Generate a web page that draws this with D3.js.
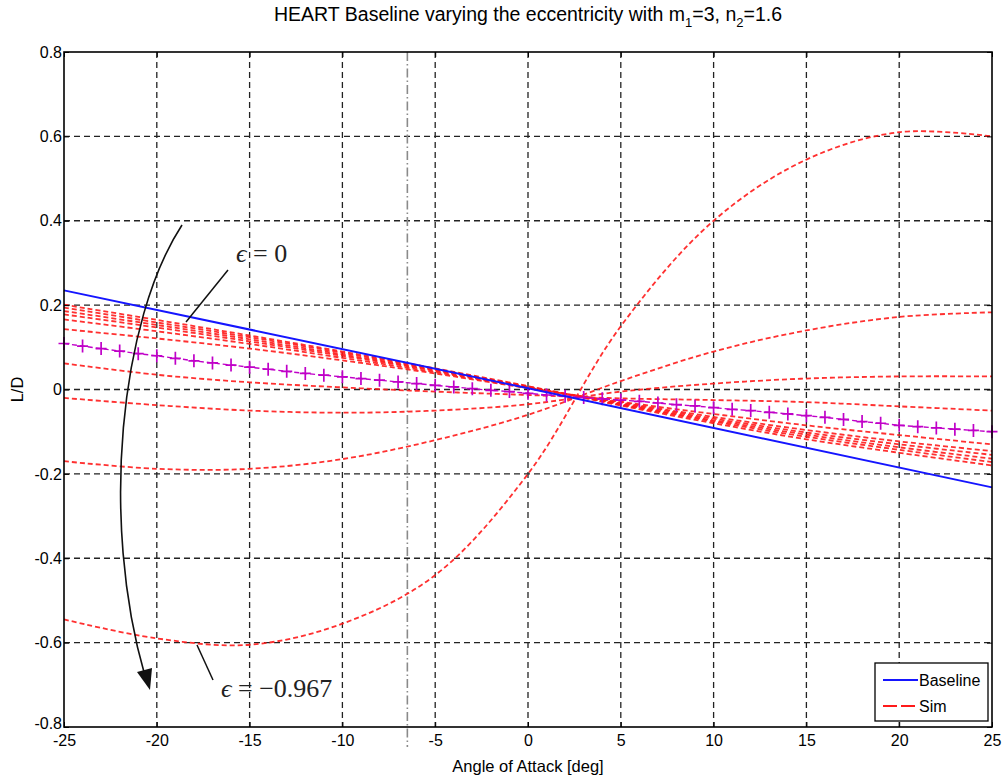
<!DOCTYPE html>
<html>
<head>
<meta charset="utf-8">
<script src="https://cdn.jsdelivr.net/npm/d3@7"></script>
<style>
  html, body { margin: 0; padding: 0; background: #fff; }
  svg { display: block; }
  .lbl { font-family: "Liberation Sans", Arial, sans-serif; }
</style>
</head>
<body>
<svg id="chart" width="1005" height="780"></svg>
<script>
// ---------- data ----------
const xTicks = [-25, -20, -15, -10, -5, 0, 5, 10, 15, 20, 25];
const xTickLabels = ["-25", "-20", "-15", "-10", "-5", "0", "5", "10", "15", "20", "25"];
const yTicks = [-0.8, -0.6, -0.4, -0.2, 0, 0.2, 0.4, 0.6, 0.8];
const yTickLabels = ["-0.8", "-0.6", "-0.4", "-0.2", "0", "0.2", "0.4", "0.6", "0.8"];

// Baseline (blue)
const baselineAoA = [-25, 0, 25];
const baselineLD = [0.235, 0.003, -0.232];

// Sim family (red dashed), sampled every 5 deg
const simAoA = [-25, -20, -15, -10, -5, 0, 5, 10, 15, 20, 25];
const simEps0 = [0.201, 0.165, 0.128, 0.090, 0.050, 0.008, -0.038, -0.080, -0.118, -0.150, -0.180];
const simEps1 = [0.194, 0.159, 0.124, 0.087, 0.048, 0.007, -0.036, -0.076, -0.112, -0.143, -0.172];
const simEps2 = [0.186, 0.153, 0.119, 0.083, 0.046, 0.006, -0.035, -0.073, -0.107, -0.137, -0.164];
const simEps3 = [0.178, 0.147, 0.114, 0.080, 0.044, 0.005, -0.033, -0.069, -0.102, -0.130, -0.155];
const simEps4 = [0.166, 0.138, 0.108, 0.075, 0.041, 0.004, -0.031, -0.065, -0.096, -0.123, -0.146];
const simEps5 = [0.143, 0.121, 0.097, 0.069, 0.038, 0.003, -0.029, -0.058, -0.085, -0.108, -0.130];
const simEps6 = [0.062, 0.035, 0.017, 0.005, -0.005, -0.013, -0.021, -0.025, -0.030, -0.040, -0.050];
const simEps7 = [-0.020, -0.037, -0.050, -0.055, -0.050, -0.035, -0.005, 0.014, 0.026, 0.031, 0.031];
const simEps8 = [-0.170, -0.188, -0.188, -0.165, -0.120, -0.060, 0.020, 0.090, 0.140, 0.172, 0.183];
const simEps9 = [-0.545, -0.590, -0.605, -0.555, -0.440, -0.200, 0.150, 0.400, 0.545, 0.610, 0.600];
const simSeries = [simEps0, simEps1, simEps2, simEps3, simEps4, simEps5, simEps6, simEps7, simEps8, simEps9];

// Purple "+" marker series, every 1 deg
const markAoA = [-25,-24,-23,-22,-21,-20,-19,-18,-17,-16,-15,-14,-13,-12,-11,-10,-9,-8,-7,-6,-5,-4,-3,-2,-1,0,1,2,3,4,5,6,7,8,9,10,11,12,13,14,15,16,17,18,19,20,21,22,23,24,25];
const markLD = [0.109,0.103,0.097,0.091,0.085,0.080,0.074,0.068,0.063,0.058,0.053,0.048,0.043,0.038,0.034,0.030,0.026,0.022,0.018,0.014,0.010,0.006,0.002,-0.002,-0.005,-0.009,-0.013,-0.016,-0.019,-0.022,-0.025,-0.028,-0.032,-0.036,-0.039,-0.043,-0.047,-0.050,-0.054,-0.058,-0.062,-0.066,-0.071,-0.076,-0.080,-0.085,-0.088,-0.091,-0.094,-0.097,-0.100];

// Vertical reference line
const refAoA = -6.5;

const titleText = "HEART Baseline varying the eccentricity with m";
const xLabel = "Angle of Attack [deg]";
const yLabel = "L/D";
const legendNames = ["Baseline", "Sim"];

// ---------- layout ----------
const svg = d3.select("#chart");
const L = 64, R = 992, T = 52, B = 727;
const x = d3.scaleLinear().domain([-25, 25]).range([L, R]);
const y = d3.scaleLinear().domain([-0.8, 0.8]).range([B, T]);

// grid
const grid = svg.append("g");
xTicks.slice(1, -1).forEach(v => {
  grid.append("line").attr("x1", x(v)).attr("x2", x(v)).attr("y1", T).attr("y2", B)
    .attr("stroke", "#222").attr("stroke-width", 1.3).attr("stroke-dasharray", "6,4");
});
yTicks.slice(1, -1).forEach(v => {
  grid.append("line").attr("x1", L).attr("x2", R).attr("y1", y(v)).attr("y2", y(v))
    .attr("stroke", "#222").attr("stroke-width", 1.3).attr("stroke-dasharray", "6,4");
});

// reference dash-dot line
svg.append("line").attr("x1", x(refAoA)).attr("x2", x(refAoA)).attr("y1", T).attr("y2", B + 20)
  .attr("stroke", "#8a8a8a").attr("stroke-width", 1.6).attr("stroke-dasharray", "9,3,1.5,3");

const plot = svg.append("g");
const lineSim = d3.line().x((d, i) => x(simAoA[i])).y(d => y(d)).curve(d3.curveCatmullRom.alpha(0.5));

// sim curves
simSeries.forEach(s => {
  plot.append("path").attr("d", lineSim(s)).attr("fill", "none")
    .attr("stroke", "#ff1a1a").attr("stroke-opacity", 0.9).attr("stroke-width", 1.8)
    .attr("stroke-dasharray", "5,3");
});

// purple series
const lineMark = d3.line().x((d, i) => x(markAoA[i])).y(d => y(d));
plot.append("path").attr("d", lineMark(markLD)).attr("fill", "none")
  .attr("stroke", "#c000c8").attr("stroke-width", 1.4).attr("stroke-dasharray", "5,3");
markLD.forEach((v, i) => {
  const cx = x(markAoA[i]), cy = y(v);
  plot.append("path").attr("d", `M${cx-5.5},${cy}H${cx+5.5}M${cx},${cy-6.5}V${cy+6.5}`)
    .attr("stroke", "#c000c8").attr("stroke-width", 1.7);
});

// baseline
const lineBase = d3.line().x((d, i) => x(baselineAoA[i])).y(d => y(d));
plot.append("path").attr("d", lineBase(baselineLD)).attr("fill", "none")
  .attr("stroke", "#1515ff").attr("stroke-width", 2);

// frame
svg.append("rect").attr("x", L).attr("y", T).attr("width", R - L).attr("height", B - T)
  .attr("fill", "none").attr("stroke", "#000").attr("stroke-width", 1.6);

// axes with inward ticks
const xAxisB = d3.axisBottom(x).tickValues(xTicks).tickSize(-5).tickPadding(8).tickFormat((d, i) => xTickLabels[i]);
const gx = svg.append("g").attr("transform", `translate(0,${B})`).call(xAxisB);
gx.select(".domain").remove();
gx.selectAll("text").attr("class", "lbl").attr("font-size", 16).attr("fill", "#000");
gx.selectAll("line").attr("stroke", "#000");

const xAxisT = d3.axisTop(x).tickValues(xTicks).tickSize(-5).tickFormat("");
const gxt = svg.append("g").attr("transform", `translate(0,${T})`).call(xAxisT);
gxt.select(".domain").remove();

const yAxisL = d3.axisLeft(y).tickValues(yTicks).tickSize(-5).tickPadding(2).tickFormat((d, i) => yTickLabels[i]);
const gy = svg.append("g").attr("transform", `translate(${L},0)`).call(yAxisL);
gy.select(".domain").remove();
gy.selectAll("text").attr("class", "lbl").attr("font-size", 16).attr("fill", "#000")
  .attr("dy", (d, i) => i === 0 ? "0.1em" : "0.32em");

const yAxisR = d3.axisRight(y).tickValues(yTicks).tickSize(-5).tickFormat("");
const gyr = svg.append("g").attr("transform", `translate(${R},0)`).call(yAxisR);
gyr.select(".domain").remove();

// title
const tt = svg.append("text").attr("class", "lbl").attr("x", (L + R) / 2).attr("y", 21)
  .attr("text-anchor", "middle").attr("font-size", 19.5).attr("fill", "#000");
tt.append("tspan").text(titleText);
tt.append("tspan").attr("dy", 6).attr("font-size", 13).text("1");
tt.append("tspan").attr("dy", -6).text("=3, n");
tt.append("tspan").attr("dy", 6).attr("font-size", 13).text("2");
tt.append("tspan").attr("dy", -6).text("=1.6");

// axis labels
svg.append("text").attr("class", "lbl").attr("x", (L + R) / 2).attr("y", 772)
  .attr("text-anchor", "middle").attr("font-size", 16.5).text(xLabel);
svg.append("text").attr("class", "lbl").attr("transform", `translate(23,${(T + B) / 2}) rotate(-90)`)
  .attr("text-anchor", "middle").attr("font-size", 16.5).text(yLabel);

// annotation arrow
const ann = svg.append("g");
ann.append("path").attr("d", "M182,225 C120,320 100,520 145,676").attr("fill", "none")
  .attr("stroke", "#111").attr("stroke-width", 1.6);
ann.append("path").attr("d", "M137,672 L150,690 L152,668 Z").attr("fill", "#111");
ann.append("line").attr("x1", 228).attr("y1", 270).attr("x2", 186).attr("y2", 322)
  .attr("stroke", "#111").attr("stroke-width", 1.5);
ann.append("line").attr("x1", 197).attr("y1", 645).attr("x2", 213).attr("y2", 680)
  .attr("stroke", "#111").attr("stroke-width", 1.5);
ann.append("text").attr("x", 236).attr("y", 262).attr("font-family", "Liberation Serif, DejaVu Serif, serif")
  .attr("font-size", 26).attr("fill", "#222").html('<tspan font-style="italic">ϵ</tspan> = 0');
ann.append("text").attr("x", 221).attr("y", 697).attr("font-family", "Liberation Serif, DejaVu Serif, serif")
  .attr("font-size", 26).attr("fill", "#222").html('<tspan font-style="italic">ϵ</tspan> = −0.967');

// legend
const lg = svg.append("g");
lg.append("rect").attr("x", 875).attr("y", 663).attr("width", 113).attr("height", 58)
  .attr("fill", "#fff").attr("stroke", "#000").attr("stroke-width", 1.3);
lg.append("line").attr("x1", 883).attr("x2", 918).attr("y1", 680).attr("y2", 680)
  .attr("stroke", "#1515ff").attr("stroke-width", 1.8);
lg.append("line").attr("x1", 883).attr("x2", 918).attr("y1", 706).attr("y2", 706)
  .attr("stroke", "#ff1a1a").attr("stroke-width", 1.8).attr("stroke-dasharray", "14,4");
lg.append("text").attr("class", "lbl").attr("x", 919).attr("y", 686).attr("font-size", 16).text(legendNames[0]);
lg.append("text").attr("class", "lbl").attr("x", 919).attr("y", 712).attr("font-size", 16).text(legendNames[1]);
</script>
</body>
</html>
